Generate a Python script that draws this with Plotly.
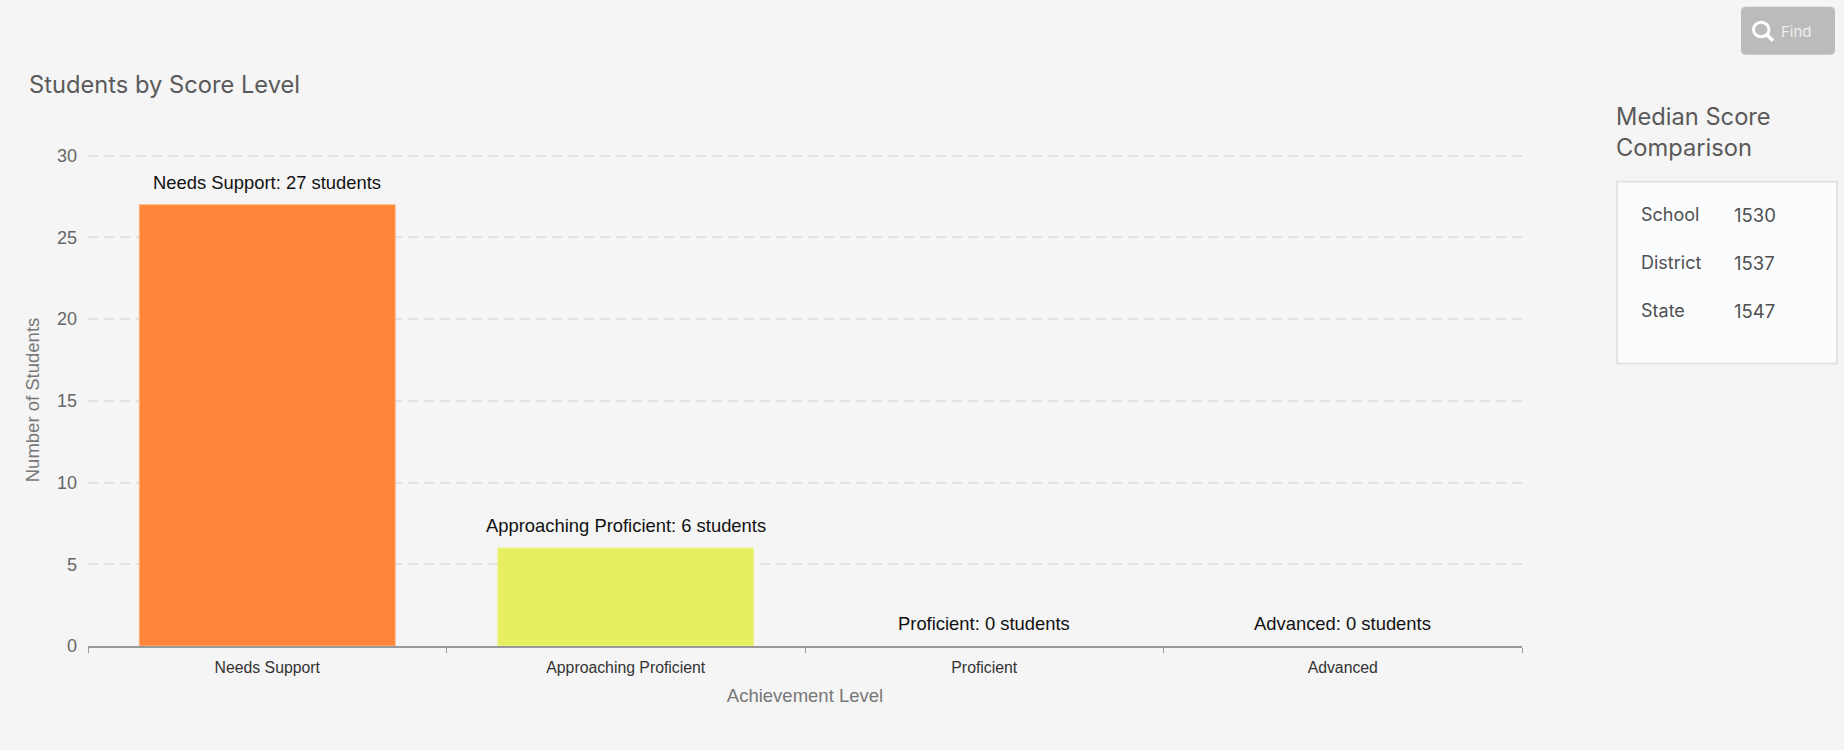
import plotly.graph_objects as go

categories = ["Needs Support", "Approaching Proficient", "Proficient", "Advanced"]
students = [27, 6, 0, 0]
bar_colors = ["#ff8638", "#e5ef5f", "#e5e5e5", "#e5e5e5"]
bar_edges = ["#fdb585", "#eef39a", "#e5e5e5", "#e5e5e5"]
edge_widths = [1, 1, 0, 0]
y_ticks = [0, 5, 10, 15, 20, 25, 30]
panel_names = ["School", "District", "State"]
panel_scores = [1530, 1537, 1547]

W, H = 1844, 750
L, R, T, B = 88, 1522, 154.3, 646.5
UI = "Inter"
LAB = "Liberation Sans"


def fx(px):
    return (px - L) / (R - L)


def fy(py):
    return (B - py) / (B - T)


def note(px, py, text, size, color, family=UI, xanchor="left"):
    return dict(xref="paper", yref="paper", x=fx(px), y=fy(py), text=text, showarrow=False,
                xanchor=xanchor, yanchor="middle", align="left",
                font=dict(family=family, size=size, color=color))


fig = go.Figure(go.Bar(x=categories, y=students,
                       marker=dict(color=bar_colors, line=dict(width=edge_widths, color=bar_edges)),
                       width=0.714, hoverinfo="skip"))

annotations = [
    dict(x=c, y=v, xref="x", yref="y", text=f"{c}: {v} students", showarrow=False, yanchor="bottom",
         yshift=10, font=dict(family=LAB, size=18.4, color="#111111"))
    for c, v in zip(categories, students)
]
annotations += [
    note(27, 85, "Students by Score Level", 23.7, "#5a5a5a"),
    note(1614.5, 117, "Median Score", 23.7, "#5a5a5a"),
    note(1614.5, 148, "Comparison", 23.7, "#5a5a5a"),
    note(1779, 31.5, "Find", 15, "#eeeeee"),
]
for i, (n, s) in enumerate(zip(panel_names, panel_scores)):
    annotations.append(note(1639, 215 + 48 * i, n, 18, "#505050"))
    annotations.append(note(1732, 215 + 48 * i, str(s), 18.5, "#505050"))

shapes = [
    dict(type="rect", xref="paper", yref="paper", x0=fx(1617), x1=fx(1837), y0=fy(182), y1=fy(364),
         fillcolor="#fbfcfe", line=dict(color="#e3e3e3", width=2)),
]
bx0, bx1, by0, by1, r = 1741, 1835, 7, 55, 5
path = (f"M {fx(bx0 + r)} {fy(by0)} L {fx(bx1 - r)} {fy(by0)} Q {fx(bx1)} {fy(by0)} {fx(bx1)} {fy(by0 + r)} "
        f"L {fx(bx1)} {fy(by1 - r)} Q {fx(bx1)} {fy(by1)} {fx(bx1 - r)} {fy(by1)} "
        f"L {fx(bx0 + r)} {fy(by1)} Q {fx(bx0)} {fy(by1)} {fx(bx0)} {fy(by1 - r)} "
        f"L {fx(bx0)} {fy(by0 + r)} Q {fx(bx0)} {fy(by0)} {fx(bx0 + r)} {fy(by0)} Z")
shapes.append(dict(type="path", xref="paper", yref="paper", path=path, fillcolor="#bbbbbb", line=dict(width=0)))
shapes.append(dict(type="circle", xref="paper", yref="paper", x0=fx(1753.5), x1=fx(1769), y0=fy(22.5), y1=fy(37),
                   line=dict(color="#ffffff", width=3)))
shapes.append(dict(type="line", xref="paper", yref="paper", x0=fx(1767), x1=fx(1773), y0=fy(35), y1=fy(41),
                   line=dict(color="#ffffff", width=3.5)))

fig.update_layout(
    width=W, height=H, margin=dict(l=L, r=W - R, t=T, b=H - B, autoexpand=False),
    paper_bgcolor="#f5f5f5", plot_bgcolor="#f5f5f5", showlegend=False,
    annotations=annotations, shapes=shapes, bargap=0.286,
    xaxis=dict(type="category", categoryorder="array", categoryarray=categories, tickson="boundaries",
               ticks="outside", ticklen=5, tickcolor="#999999", tickwidth=1, showline=True,
               linecolor="#999999", linewidth=1.5, showgrid=False, zeroline=False, ticklabelstandoff=6,
               tickfont=dict(family=LAB, size=15.8, color="#333333"),
               title=dict(text="Achievement Level", standoff=14, font=dict(family=LAB, size=18.5, color="#777777"))),
    yaxis=dict(range=[0, 30.1], tickvals=y_ticks, showline=False, zeroline=False, showgrid=True,
               gridcolor="#e2e2e2", griddash="10px,6px", gridwidth=1.5, ticks="", ticklen=0, ticklabelstandoff=10,
               tickfont=dict(family=LAB, size=18, color="#666666"),
               title=dict(text="Number of Students", standoff=12, font=dict(family=LAB, size=18.5, color="#777777"))),
)

fig.write_html("out.html", config=dict(displayModeBar=False),
               post_script="document.body.style.margin='0';document.documentElement.style.overflow='hidden';")
